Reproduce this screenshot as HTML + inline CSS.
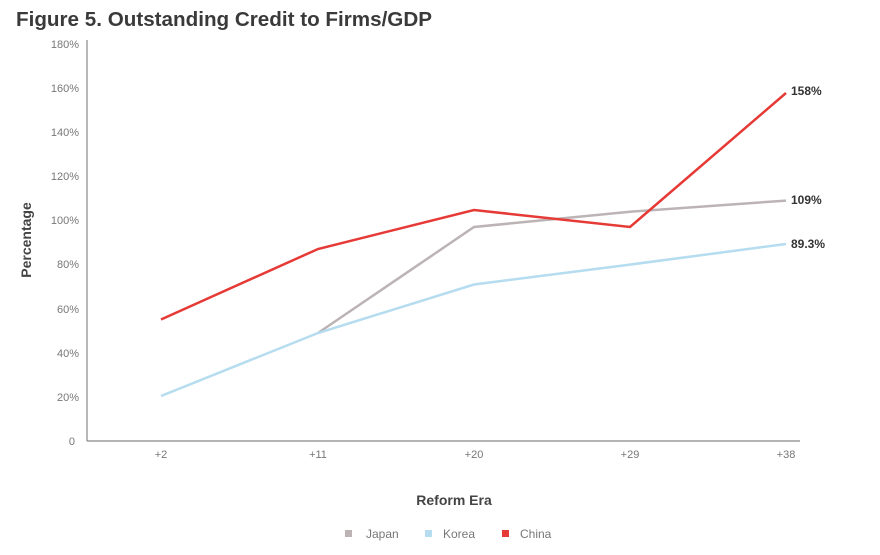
<!DOCTYPE html>
<html><head><style>
body{margin:0;background:#fff;width:880px;height:550px;overflow:hidden;font-family:"Liberation Sans",sans-serif}
</style></head><body>
<svg width="880" height="550" xmlns="http://www.w3.org/2000/svg" font-family="Liberation Sans, sans-serif">
<text x="16" y="26" font-size="20" font-weight="bold" fill="#3a3a3a" textLength="416" lengthAdjust="spacingAndGlyphs">Figure 5. Outstanding Credit to Firms/GDP</text>
<g font-size="11" fill="#777" text-anchor="end">
<text x="79" y="48">180%</text><text x="79" y="92">160%</text><text x="79" y="136">140%</text>
<text x="79" y="180">120%</text><text x="79" y="224">100%</text><text x="79" y="268">80%</text>
<text x="79" y="313">60%</text><text x="79" y="357">40%</text><text x="79" y="401">20%</text>
<text x="75" y="445">0</text>
</g>
<line x1="87" y1="40" x2="87" y2="441" stroke="#888" stroke-width="1.2"/>
<line x1="87" y1="441" x2="800" y2="441" stroke="#888" stroke-width="1.2"/>
<g font-size="11" fill="#777" text-anchor="middle">
<text x="161" y="458">+2</text><text x="318" y="458">+11</text><text x="474" y="458">+20</text>
<text x="630" y="458">+29</text><text x="786" y="458">+38</text>
</g>
<text x="31" y="240" font-size="14" font-weight="bold" fill="#444" text-anchor="middle" transform="rotate(-90 31 240)">Percentage</text>
<text x="454" y="505" font-size="14" font-weight="bold" fill="#444" text-anchor="middle">Reform Era</text>
<polyline points="318,333 474,227 630,211.7 786,200.6" fill="none" stroke="#bcb3b5" stroke-width="2.5"/>
<polyline points="161,396 318,333 474,284.5 630,264.6 786,244" fill="none" stroke="#b5dcef" stroke-width="2.5"/>
<polyline points="161,319.5 318,249 474,210 630,227 786,93" fill="none" stroke="#e53a35" stroke-width="2.5"/>
<g font-size="12" font-weight="bold" fill="#333">
<text x="791" y="95">158%</text><text x="791" y="204">109%</text><text x="791" y="248">89.3%</text>
</g>
<g font-size="12" fill="#777">
<rect x="345" y="530" width="7" height="7" fill="#bcb3b5"/><text x="366" y="538">Japan</text>
<rect x="425" y="530" width="7" height="7" fill="#b5dcef"/><text x="443" y="538">Korea</text>
<rect x="502" y="530" width="7" height="7" fill="#e53a35"/><text x="520" y="538">China</text>
</g>
</svg>
</body></html>
